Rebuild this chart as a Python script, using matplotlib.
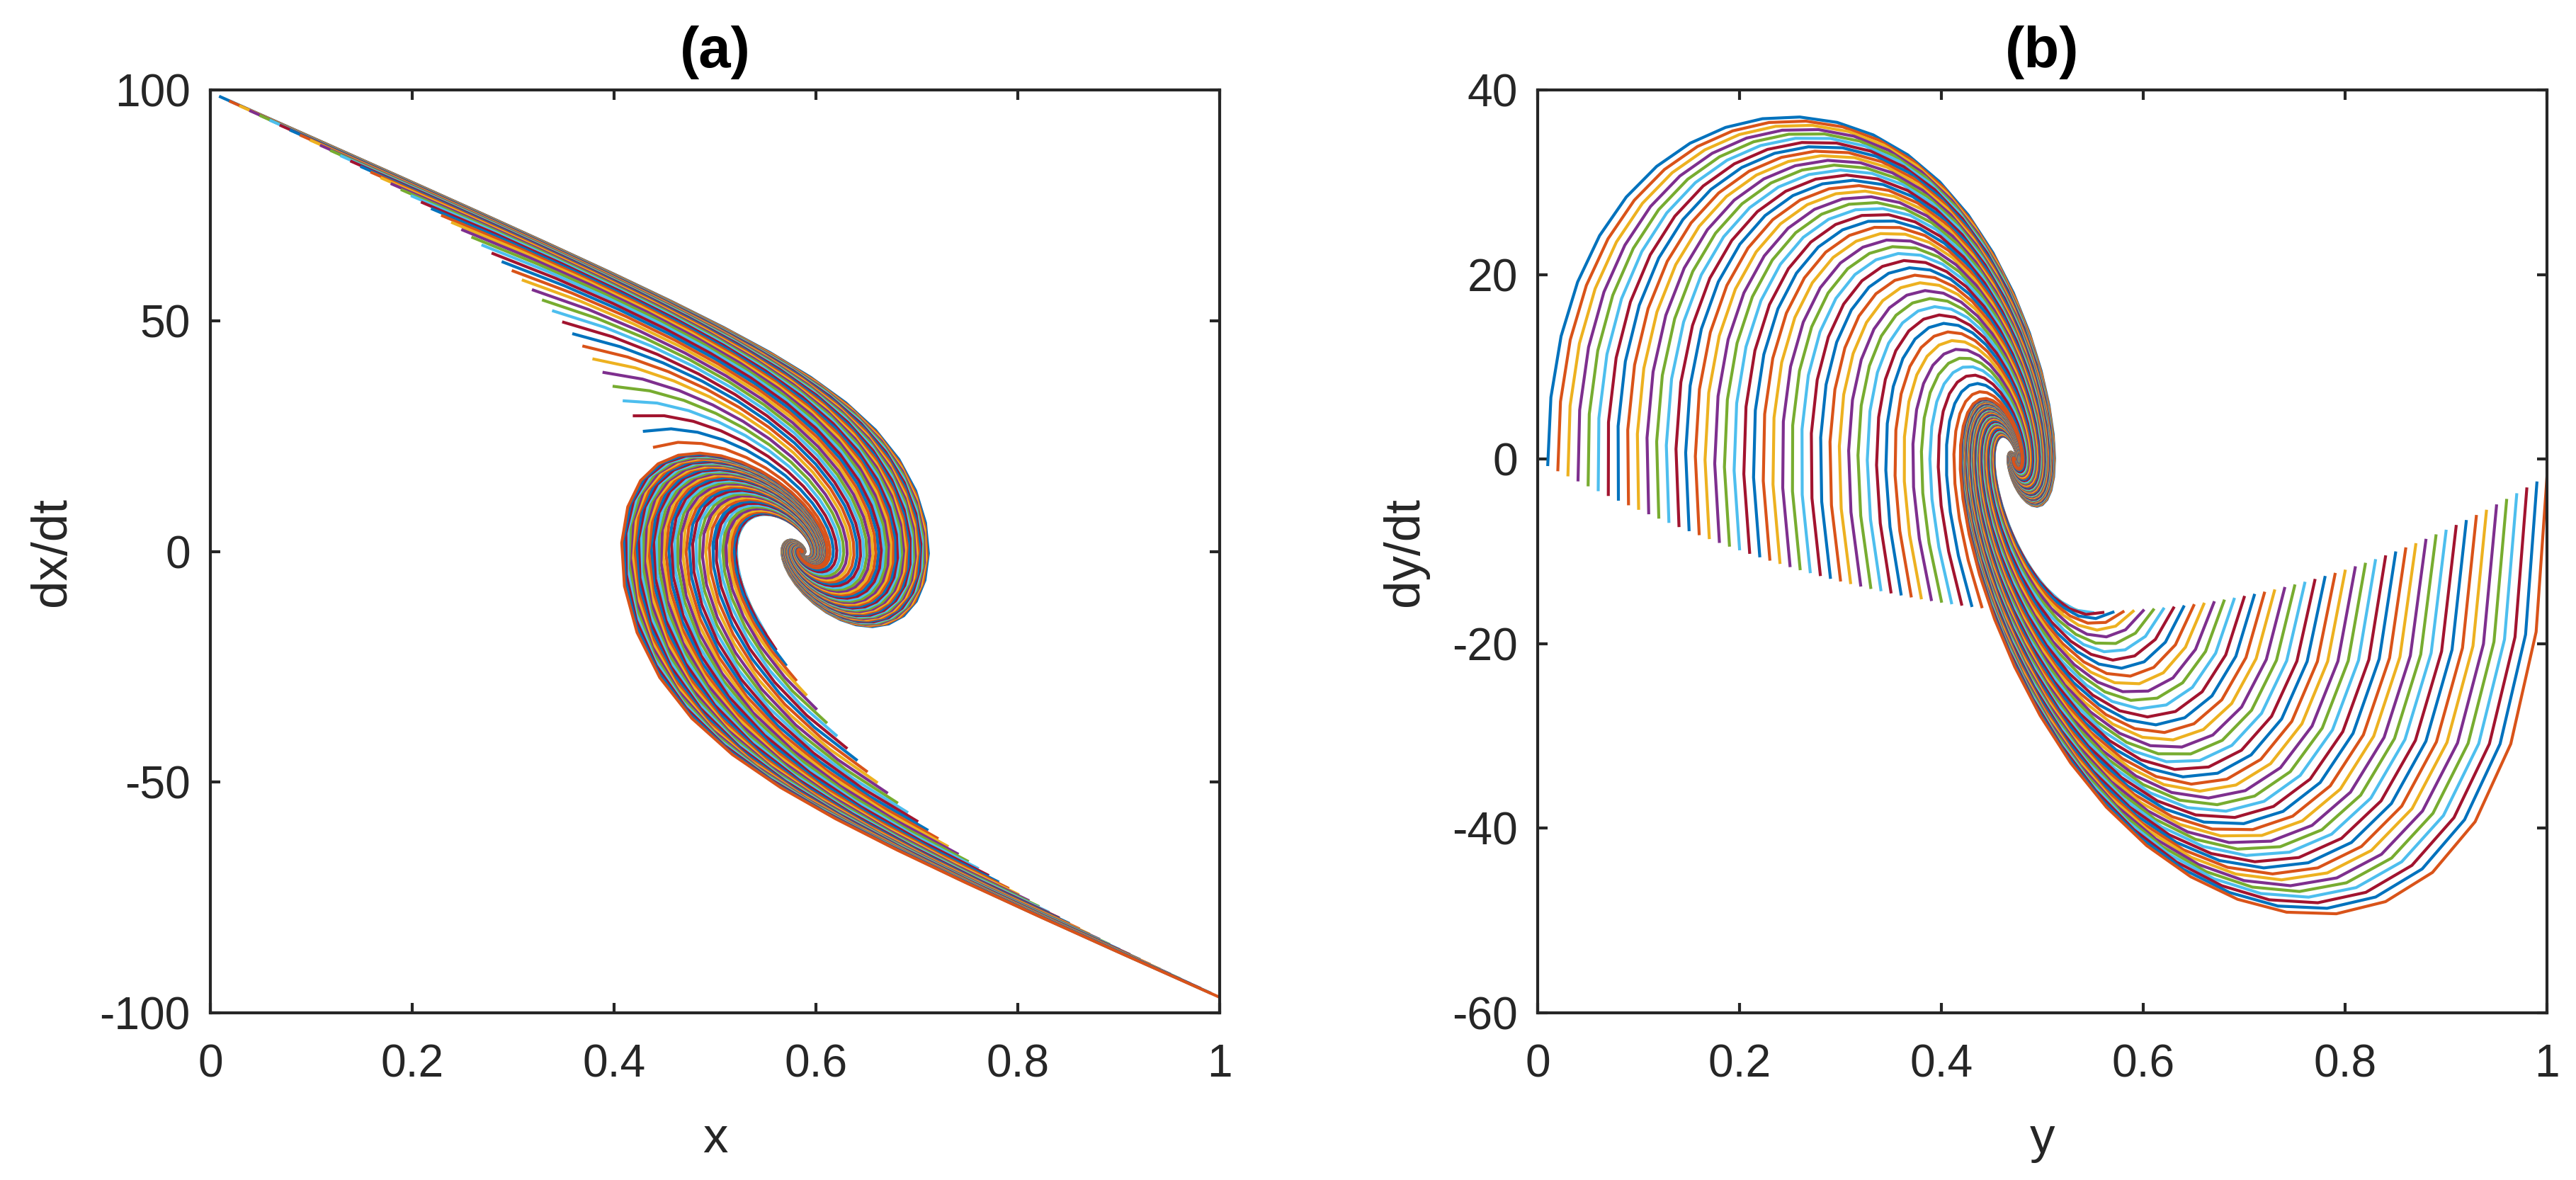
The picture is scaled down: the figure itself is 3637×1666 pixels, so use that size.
import numpy as np
import matplotlib.pyplot as plt
from matplotlib.ticker import FormatStrFormatter

plt.rcParams['font.family'] = ['Liberation Sans', 'DejaVu Sans']
plt.rcParams['axes.unicode_minus'] = False

# start points: one curve per start value, x(0) = y(0) = s
s0 = np.linspace(0.01, 1.0, 100)

# dx/dt = PA - PB*x - PL*sigmoid((y - PM)/PW)
PA, PB, PL, PM, PW = 100.0, 97.0, 100.0, 0.497, 0.09
# dy/dt = H(x) - H(y) + Y0(y),  H(u) = H1*u + H2*u^2
H1, H2 = 74.5, 65.0
B0, B1, B2 = -55.6, -13.3, -1.9

dt = 0.001
n_steps = 160
n_sub = 20

matlab_colors = ['#0072BD', '#D95319', '#EDB120', '#7E2F8E',
                 '#77AC30', '#4DBEEE', '#A2142F']


def sig(u):
    return 1.0 / (1.0 + np.exp(-u))


def hfun(u):
    return H1 * u + H2 * u ** 2


def y_rate0(s):
    return s * (1 - s) * (B0 + B1 * s) + B2 * s


def rhs(x, y):
    dx = PA - PB * x - PL * sig((y - PM) / PW)
    dy = hfun(x) - hfun(y) + y_rate0(y)
    return dx, dy


# integrate all curves at once (RK4)
x = s0.copy()
y = s0.copy()
xs = [x.copy()]
ys = [y.copy()]
h = dt / n_sub
for i in range(n_steps):
    for j in range(n_sub):
        k1x, k1y = rhs(x, y)
        k2x, k2y = rhs(x + 0.5 * h * k1x, y + 0.5 * h * k1y)
        k3x, k3y = rhs(x + 0.5 * h * k2x, y + 0.5 * h * k2y)
        k4x, k4y = rhs(x + h * k3x, y + h * k3y)
        x = x + h / 6 * (k1x + 2 * k2x + 2 * k3x + k4x)
        y = y + h / 6 * (k1y + 2 * k2y + 2 * k3y + k4y)
    xs.append(x.copy())
    ys.append(y.copy())
X = np.array(xs)
Y = np.array(ys)
DX, DY = rhs(X, Y)

fig = plt.figure(figsize=(3637 / 600, 1666 / 600), dpi=600)
ax1 = fig.add_axes([0.08166, 0.14166, 0.39181, 0.78181])
ax2 = fig.add_axes([0.59692, 0.14166, 0.39181, 0.78181])

grey = '#262626'
panels = [
    (ax1, X, DX, (-100, 100), [-100, -50, 0, 50, 100], 'x', 'dx/dt', '(a)', -0.133),
    (ax2, Y, DY, (-60, 40), [-60, -40, -20, 0, 20, 40], 'y', 'dy/dt', '(b)', -0.108),
]
for ax, u, du, ylim, yt, xl, yl, title, ylx in panels:
    ax.set_prop_cycle(color=matlab_colors)
    ax.plot(u, du, lw=0.5)
    ax.set_xlim(0, 1)
    ax.set_ylim(*ylim)
    ax.set_xticks([0, 0.2, 0.4, 0.6, 0.8, 1])
    ax.set_yticks(yt)
    ax.xaxis.set_major_formatter(FormatStrFormatter('%g'))
    ax.tick_params(direction='in', length=1.7, width=0.5, colors=grey,
                   labelsize=7.7, top=True, right=True)
    ax.tick_params(axis='x', pad=5.2)
    ax.tick_params(axis='y', pad=3.4)
    for sp in ax.spines.values():
        sp.set_linewidth(0.5)
        sp.set_color(grey)
    ax.set_xlabel(xl, fontsize=8.5, color=grey)
    ax.set_ylabel(yl, fontsize=8.5, color=grey)
    ax.xaxis.set_label_coords(0.5, -0.112)
    ax.yaxis.set_label_coords(ylx, 0.5)
    ax.set_title(title, fontsize=9.8, fontweight='bold', pad=3.9)

fig.savefig('out.png', dpi=600)
plt.close('all')
